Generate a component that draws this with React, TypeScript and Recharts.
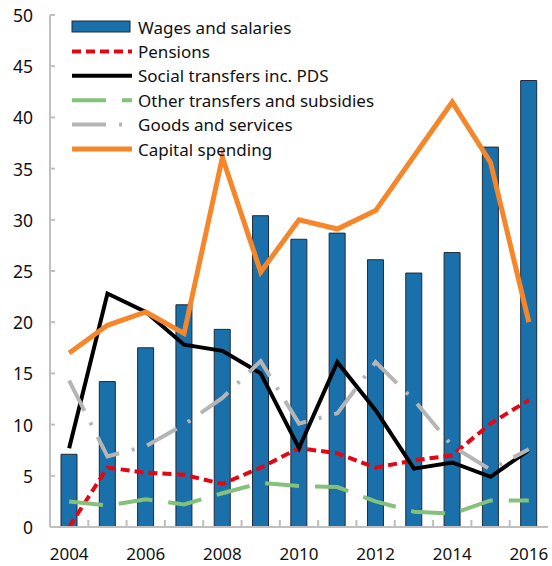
import React from 'react';
import { ComposedChart, Bar, Line, XAxis, YAxis } from 'recharts';

const years = ['2004','2005','2006','2007','2008','2009','2010','2011','2012','2013','2014','2015','2016'];
const wages = [7.1, 14.2, 17.5, 21.7, 19.3, 30.4, 28.1, 28.7, 26.1, 24.8, 26.8, 37.1, 43.6];
const pensions = [0, 5.8, 5.3, 5.1, 4.2, 5.8, 7.7, 7.2, 5.8, 6.5, 7.0, 10.1, 12.4];
const social = [7.7, 22.8, 21.0, 17.8, 17.2, 15.0, 7.7, 16.1, 11.4, 5.7, 6.3, 4.9, 7.5];
const other = [2.5, 2.1, 2.7, 2.2, 3.3, 4.3, 4.0, 3.9, 2.5, 1.5, 1.3, 2.6, 2.6];
const goods = [14.3, 6.9, 7.9, 10.0, 12.6, 16.2, 10.1, 11.1, 16.1, 12.4, 7.9, 5.6, 7.6];
const capital = [17.0, 19.7, 21.0, 18.9, 36.1, 24.9, 30.0, 29.1, 30.9, 36.2, 41.5, 35.6, 20.0];
const yTicks = [0, 5, 10, 15, 20, 25, 30, 35, 40, 45, 50];
const labelYears = ['2004','2006','2008','2010','2012','2014','2016'];

const data = years.map((y, i) => ({
  year: y,
  wages: wages[i],
  pensions: pensions[i],
  social: social[i],
  other: other[i],
  goods: goods[i],
  capital: capital[i],
}));

const FONT = '"Noto Sans", sans-serif';
const AXIS = '#bfbfbf';
const HALF_BAND = 498 / 13 / 2;

const series = [
  { key: 'wages', name: 'Wages and salaries', type: 'bar', color: '#1a70aa' },
  { key: 'pensions', name: 'Pensions', type: 'line', color: '#e30613', width: 4, dash: '9 5' },
  { key: 'social', name: 'Social transfers inc. PDS', type: 'line', color: '#000000', width: 4, dash: undefined },
  { key: 'other', name: 'Other transfers and subsidies', type: 'line', color: '#84c17a', width: 4, dash: '34 16' },
  { key: 'goods', name: 'Goods and services', type: 'line', color: '#b5b5b5', width: 4, dash: '34 13 3 13' },
  { key: 'capital', name: 'Capital spending', type: 'line', color: '#f5862a', width: 5, dash: undefined },
];

const YTick = (props: any) => {
  const { x, y, payload } = props;
  return (
    <g>
      <line x1={x} x2={x + 5} y1={y} y2={y} stroke={AXIS} strokeWidth={2} />
      <text x={x - 17} y={y} textAnchor="end" dominantBaseline="central" fontSize={17.5} fontFamily={FONT} fill="#111">
        {payload.value}
      </text>
    </g>
  );
};

const XTick = (props: any) => {
  const { x, y, payload, index } = props;
  return (
    <g>
      {index > 0 && (
        <line x1={x - HALF_BAND} x2={x - HALF_BAND} y1={y} y2={y - 7} stroke={AXIS} strokeWidth={2} />
      )}
      {labelYears.includes(payload.value) && (
        <text x={x} y={y + 26} textAnchor="middle" dominantBaseline="central" fontSize={17} fontFamily={FONT} fill="#111">
          {payload.value}
        </text>
      )}
    </g>
  );
};

const LegendOverlay = () => {
  const rowY = (i: number) => 27 + i * 24.4;
  return (
    <svg width={552} height={170} style={{ position: 'absolute', left: 0, top: 0, pointerEvents: 'none' }}>
      {series.map((s, i) => {
        const y = rowY(i);
        return (
          <g key={s.key}>
            {s.type === 'bar' ? (
              <rect x={72} y={y - 6} width={58} height={11} fill={s.color} stroke="#1d2b3a" strokeWidth={1} />
            ) : (
              <line x1={72} x2={132} y1={y} y2={y} stroke={s.color} strokeWidth={s.width} strokeDasharray={s.dash} />
            )}
            <text x={138} y={y} dominantBaseline="central" fontSize={17} fontFamily={FONT} fill="#111">
              {s.name}
            </text>
          </g>
        );
      })}
    </svg>
  );
};

export default function App() {
  return (
    <div style={{ position: 'absolute', left: 0, top: 0, width: 552, height: 566, background: '#fff' }}>
      <ComposedChart
        width={552}
        height={566}
        data={data}
        margin={{ top: 15, right: 4, bottom: 0, left: 10 }}
      >
        <XAxis
          dataKey="year"
          interval={0}
          tickSize={0}
          tickMargin={0}
          tickLine={false}
          height={39}
          axisLine={{ stroke: AXIS, strokeWidth: 2 }}
          tick={<XTick />}
        />
        <YAxis
          domain={[0, 50]}
          ticks={yTicks}
          width={40}
          tickSize={0}
          tickMargin={0}
          tickLine={false}
          axisLine={{ stroke: AXIS, strokeWidth: 2 }}
          tick={<YTick />}
          interval={0}
        />
        <YAxis
          yAxisId="right"
          orientation="right"
          domain={[0, 50]}
          width={0}
          tick={false}
          tickLine={false}
          axisLine={{ stroke: AXIS, strokeWidth: 2 }}
        />
        <Bar dataKey="wages" name="Wages and salaries" fill="#1a70aa" stroke="#1d2b3a" strokeWidth={1} barSize={16} isAnimationActive={false} />
        {series.filter(s => s.type === 'line').map(s => (
          <Line
            key={s.key}
            type="linear"
            dataKey={s.key}
            name={s.name}
            stroke={s.color}
            strokeWidth={s.width}
            strokeDasharray={s.dash}
            dot={false}
            activeDot={false}
            isAnimationActive={false}
          />
        ))}
      </ComposedChart>
      <LegendOverlay />
    </div>
  );
}
